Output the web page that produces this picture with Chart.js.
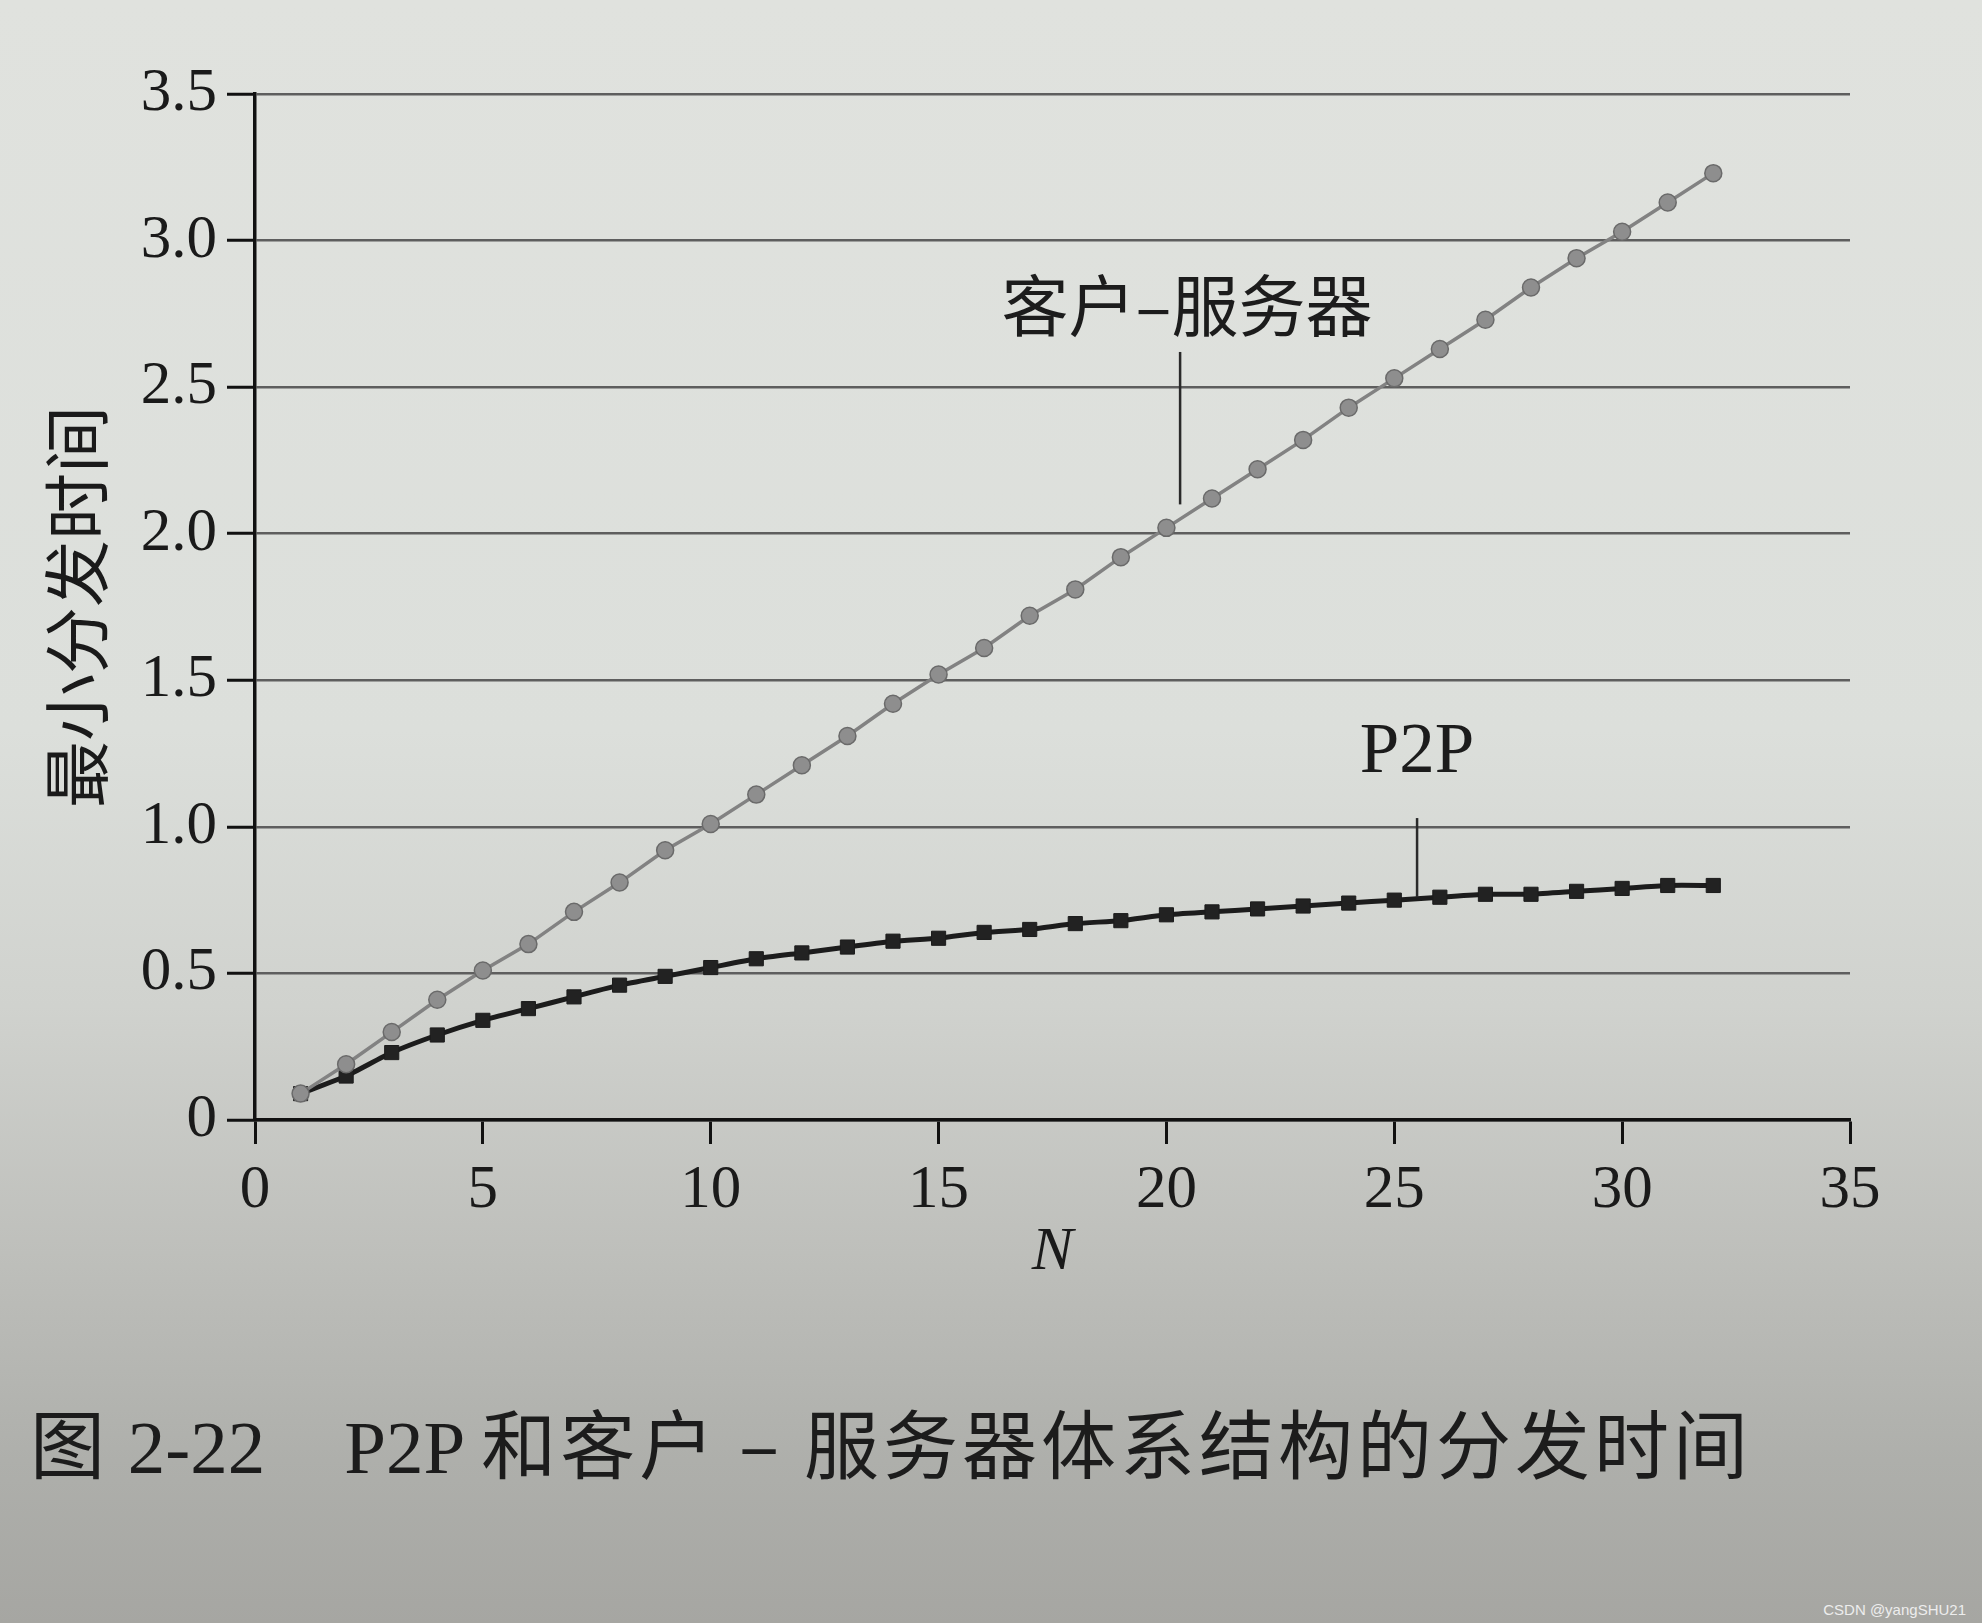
<!DOCTYPE html>
<html>
<head>
<meta charset="utf-8">
<script src="https://cdn.jsdelivr.net/npm/chart.js@4/dist/chart.umd.min.js"></script>
<style>
  html, body { margin: 0; padding: 0; }
  body {
    width: 1982px; height: 1623px; position: relative; overflow: hidden;
    background: linear-gradient(to bottom, #e0e2de 0%, #dcdfdb 45%, #d0d2ce 62%, #bdbeba 78%, #aeafab 90%, #a6a6a2 100%);
  }
  #wrap { position: absolute; left: 0; top: 0; width: 1982px; height: 1330px; }
  #caption {
    position: absolute; left: 30px; top: 1403px; line-height: 76px;
    font-family: "Liberation Serif", "Noto Sans CJK SC", serif; font-size: 75px; color: #1c1c1c;
    white-space: pre;
  }
  #caption .cjk { font-family: "Noto Sans CJK SC", sans-serif; letter-spacing: 4px; }
  #mark {
    position: absolute; right: 16px; bottom: 5px;
    font-family: "Liberation Sans", sans-serif; font-size: 15px; color: #ededed;
  }
</style>
</head>
<body>
<div id="wrap"><canvas id="chart"></canvas></div>
<div id="caption"><span class="cjk">图</span> 2-22<span class="cjk">　</span>P2P <span class="cjk">和客户 – 服务器体系结构的分发时间</span></div>
<div id="mark">CSDN @yangSHU21</div>
<script>
// 数据：N 与两种体系结构的最小分发时间
const nValues = [1, 2, 3, 4, 5, 6, 7, 8, 9, 10, 11, 12, 13, 14, 15, 16,
  17, 18, 19, 20, 21, 22, 23, 24, 25, 26, 27, 28, 29, 30, 31, 32];
const clientServer = [0.09, 0.19, 0.30, 0.41, 0.51, 0.60, 0.71, 0.81, 0.92, 1.01, 1.11, 1.21, 1.31, 1.42, 1.52, 1.61,
  1.72, 1.81, 1.92, 2.02, 2.12, 2.22, 2.32, 2.43, 2.53, 2.63, 2.73, 2.84, 2.94, 3.03, 3.13, 3.23];
const p2p = [0.09, 0.15, 0.23, 0.29, 0.34, 0.38, 0.42, 0.46, 0.49, 0.52, 0.55, 0.57, 0.59, 0.61, 0.62, 0.64,
  0.65, 0.67, 0.68, 0.70, 0.71, 0.72, 0.73, 0.74, 0.75, 0.76, 0.77, 0.77, 0.78, 0.79, 0.80, 0.80];
const yTickLabels = ['0', '0.5', '1.0', '1.5', '2.0', '2.5', '3.0', '3.5'];

// 曲线旁的标注（数据坐标）
const noteTexts = ['客户–服务器', 'P2P'];
const noteFonts = ['67px "Noto Sans CJK SC"', '71px "Liberation Serif"'];
const noteX = [20.45, 25.5];
const noteY = [2.78, 1.25];
const leaderX = [20.3, 25.5];
const leaderTop = [2.62, 1.03];
const leaderBottom = [2.1, 0.76];

function toPoints(ys) {
  return nValues.map((n, i) => ({ x: n, y: ys[i] }));
}

// 画标注文字和引线
const notesPlugin = {
  id: 'notes',
  afterDatasetsDraw(chart) {
    const ctx = chart.ctx;
    const xs = chart.scales.x, ys = chart.scales.y;
    ctx.save();
    ctx.strokeStyle = '#2a2a2a';
    ctx.lineWidth = 2.5;
    ctx.fillStyle = '#1c1c1c';
    ctx.textAlign = 'center';
    ctx.textBaseline = 'middle';
    noteTexts.forEach((t, i) => {
      const lx = xs.getPixelForValue(leaderX[i]);
      ctx.beginPath();
      ctx.moveTo(lx, ys.getPixelForValue(leaderTop[i]));
      ctx.lineTo(lx, ys.getPixelForValue(leaderBottom[i]));
      ctx.stroke();
      ctx.font = noteFonts[i];
      ctx.fillText(t, xs.getPixelForValue(noteX[i]), ys.getPixelForValue(noteY[i]));
    });
    ctx.restore();
  }
};

function createChart() {
  const ctx = document.getElementById('chart').getContext('2d');
  new Chart(ctx, {
    type: 'line',
    data: {
      datasets: [{
        label: '客户–服务器',
        data: toPoints(clientServer),
        borderColor: '#828282',
        borderWidth: 3.5,
        pointStyle: 'circle',
        pointRadius: 8.5,
        pointBackgroundColor: '#8e8e8e',
        pointBorderColor: '#6a6a6a',
        pointBorderWidth: 1.5,
        tension: 0
      }, {
        label: 'P2P',
        data: toPoints(p2p),
        borderColor: '#1c1c1c',
        borderWidth: 5,
        pointStyle: 'rect',
        pointRadius: 10,
        pointBackgroundColor: '#222222',
        pointBorderColor: '#1c1c1c',
        pointBorderWidth: 1,
        tension: 0.2
      }]
    },
    options: {
      responsive: true,
      maintainAspectRatio: false,
      animation: false,
      events: [],
      layout: { padding: { left: 0, top: 94, right: 132, bottom: 0 } },
      plugins: { legend: { display: false }, tooltip: { enabled: false } },
      scales: {
        x: {
          type: 'linear',
          min: 0, max: 35,
          border: { color: '#111', width: 3.5 },
          grid: { drawOnChartArea: false, drawTicks: true, tickLength: 24, tickColor: '#111', tickWidth: 3 },
          ticks: {
            stepSize: 5, padding: 10, color: '#1a1a1a',
            font: { family: 'Liberation Serif', size: 61 },
            callback: v => String(v)
          },
          title: {
            display: true, text: 'N', color: '#1a1a1a',
            font: { family: 'Liberation Serif', size: 62, style: 'italic' },
            padding: { top: 0, bottom: 40 }
          },
          afterFit: s => { s.height = 210; }
        },
        y: {
          min: 0, max: 3.5,
          border: { color: '#111', width: 3.5 },
          grid: { color: '#5e5e5e', lineWidth: 2.5, tickLength: 28, tickColor: '#111', tickWidth: 3 },
          ticks: {
            stepSize: 0.5, padding: 10, color: '#1a1a1a',
            font: { family: 'Liberation Serif', size: 61 },
            callback: (v, i) => yTickLabels[i]
          },
          title: {
            display: true, text: '最小分发时间', color: '#1a1a1a',
            font: { family: 'Noto Sans CJK SC', size: 67 },
            padding: { top: 36, bottom: 0 }
          },
          afterFit: s => { s.width = 255; }
        }
      }
    },
    plugins: [notesPlugin]
  });
}

createChart();
</script>
</body>
</html>
